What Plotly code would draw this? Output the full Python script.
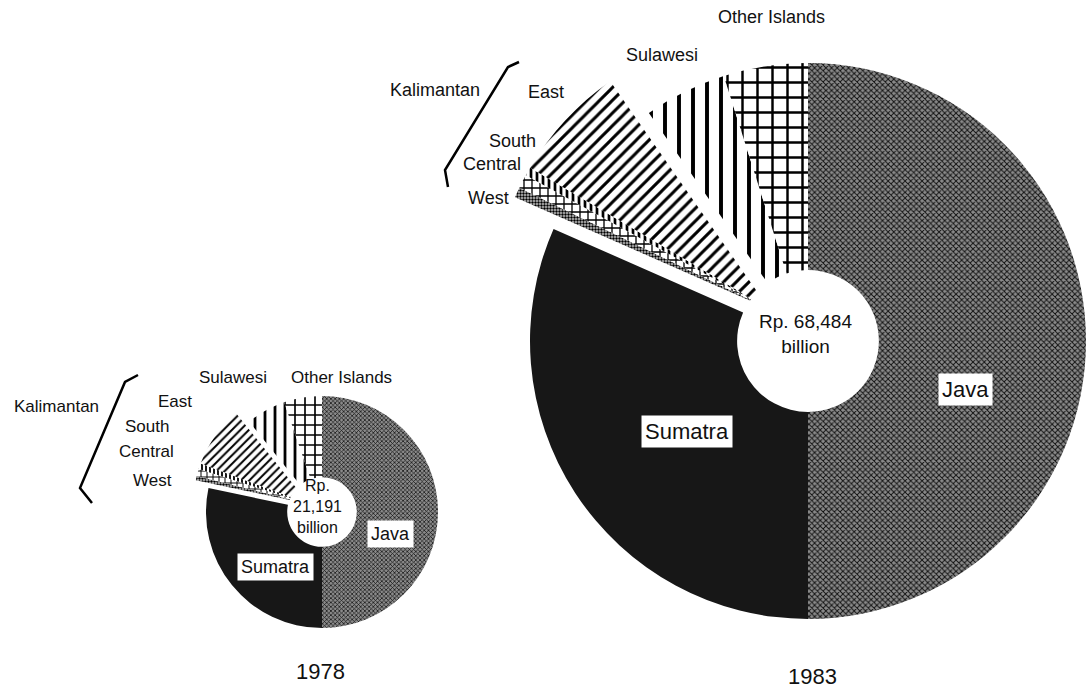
import plotly.graph_objects as go

W, H = 1086, 689

# ---------------- data ----------------
regions = ["Java", "Sumatra", "Kalimantan West", "Kalimantan Central",
           "Kalimantan South", "Kalimantan East", "Sulawesi", "Other Islands"]
share_1978 = [50.0, 28.3, 0.6, 1.0, 0.8, 8.5, 5.5, 5.3]
share_1983 = [50.0, 31.6, 0.6, 0.8, 0.5, 6.8, 4.8, 4.9]
total_1978 = "Rp.<br>21,191<br>billion"
total_1983 = "Rp. 68,484<br>billion"
years = ["1978", "1983"]
is_kalimantan = [False, False, True, True, True, True, False, False]

# ---------------- styles ----------------
# shape, fg, bg, solidity, size (for the large pie)
STYLE = {
    "Java": ("x", "#111111", "#8a8a8a", 0.42, 4),
    "Sumatra": ("", "#171717", "#171717", 0.5, 4),
    "Kalimantan West": (".", "#000000", "#c8c8c8", 0.5, 3),
    "Kalimantan Central": ("+", "#000000", "#ffffff", 0.3, 8),
    "Kalimantan South": ("|", "#000000", "#ffffff", 0.45, 6),
    "Kalimantan East": ("/", "#000000", "#ffffff", 0.33, 9),
    "Sulawesi": ("|", "#000000", "#ffffff", 0.28, 14),
    "Other Islands": ("+", "#000000", "#ffffff", 0.3, 15),
}
CLEAR = "rgba(0,0,0,0)"


def domain(cx, cy, r):
    return dict(x=[max(0, (cx - r) / W), min(1, (cx + r) / W)],
                y=[max(0, 1 - (cy + r) / H), min(1, 1 - (cy - r) / H)])


def pie(values, cx, cy, r, hole, show_kal, scale):
    colors, shapes, fgs, bgs, sols, sizes = [], [], [], [], [], []
    for name, k in zip(regions, is_kalimantan):
        shp, fg, bg, sol, sz = STYLE[name]
        if k == show_kal:
            colors.append(bg if shp else fg)
            shapes.append(shp)
            fgs.append(fg)
            bgs.append(bg)
        else:
            colors.append(CLEAR)
            shapes.append("")
            fgs.append(CLEAR)
            bgs.append(CLEAR)
        sols.append(sol)
        sizes.append(max(3, round(sz * scale)))
    return go.Pie(
        labels=regions, values=values, sort=False, direction="clockwise",
        rotation=0, hole=hole, domain=domain(cx, cy, r),
        textinfo="none", hoverinfo="skip", showlegend=False,
        marker=dict(colors=colors, line=dict(width=0),
                    pattern=dict(shape=shapes, fgcolor=fgs, bgcolor=bgs,
                                 solidity=sols, size=sizes)))


fig = go.Figure()
# exploded Kalimantan provinces (drawn underneath)
fig.add_trace(pie(share_1978, 309.3, 504.1, 116, 0.172, True, 0.7))
fig.add_trace(pie(share_1983, 769.4, 309.2, 278, 0.0755, True, 1.0))
# main pies
fig.add_trace(pie(share_1978, 322, 512, 116, 0.30, False, 0.7))
fig.add_trace(pie(share_1983, 808, 341, 278, 0.255, False, 1.0))

FONT = "Liberation Sans, Arial, Helvetica, sans-serif"


def ann(text, x, y, size, box=False):
    d = dict(text=text, x=x / W, y=1 - y / H, xref="paper", yref="paper",
             xanchor="center", yanchor="middle", showarrow=False,
             font=dict(family=FONT, size=size, color="#111111"))
    if box:
        d.update(bgcolor="#ffffff", borderpad=3)
    return d


annotations = [
    # 1983
    ann("Other Islands", 771, 17, 18),
    ann("Sulawesi", 662, 55, 18),
    ann("Kalimantan", 435, 90, 18),
    ann("East", 546, 92, 18),
    ann("South", 512, 141, 18),
    ann("Central", 492, 164, 18),
    ann("West", 488, 198, 18),
    ann(total_1983, 805, 334, 19),
    ann("Java", 965, 389, 22, box=True),
    ann("Sumatra", 687, 431, 22, box=True),
    ann(years[1], 812, 676, 22),
    # 1978
    ann("Other Islands", 341, 377, 17),
    ann("Sulawesi", 233, 378, 17),
    ann("Kalimantan", 56, 407, 17),
    ann("East", 175, 401, 17),
    ann("South", 147, 426, 17),
    ann("Central", 146, 451, 17),
    ann("West", 152, 480, 17),
    ann(total_1978, 317, 507, 16),
    ann("Java", 390, 534, 18, box=True),
    ann("Sumatra", 275, 567, 18, box=True),
    ann(years[0], 320, 671, 22),
]


def bracket(pts):
    path = "M " + " L ".join(f"{x / W:.5f},{1 - y / H:.5f}" for x, y in pts)
    return dict(type="path", xref="paper", yref="paper", path=path,
                line=dict(color="#000000", width=2.5))


shapes = [
    bracket([(519, 62), (508, 67), (445, 170), (448, 187)]),
    bracket([(138, 375), (125, 382), (80, 488), (92, 503)]),
]

fig.update_layout(width=W, height=H, margin=dict(l=0, r=0, t=0, b=0),
                  paper_bgcolor="#ffffff", plot_bgcolor="#ffffff",
                  annotations=annotations, shapes=shapes)

fig.write_html(
    "out.html",
    config={"displayModeBar": False},
    post_script="document.body.style.margin='0';"
                "document.body.style.overflow='hidden';",
)
